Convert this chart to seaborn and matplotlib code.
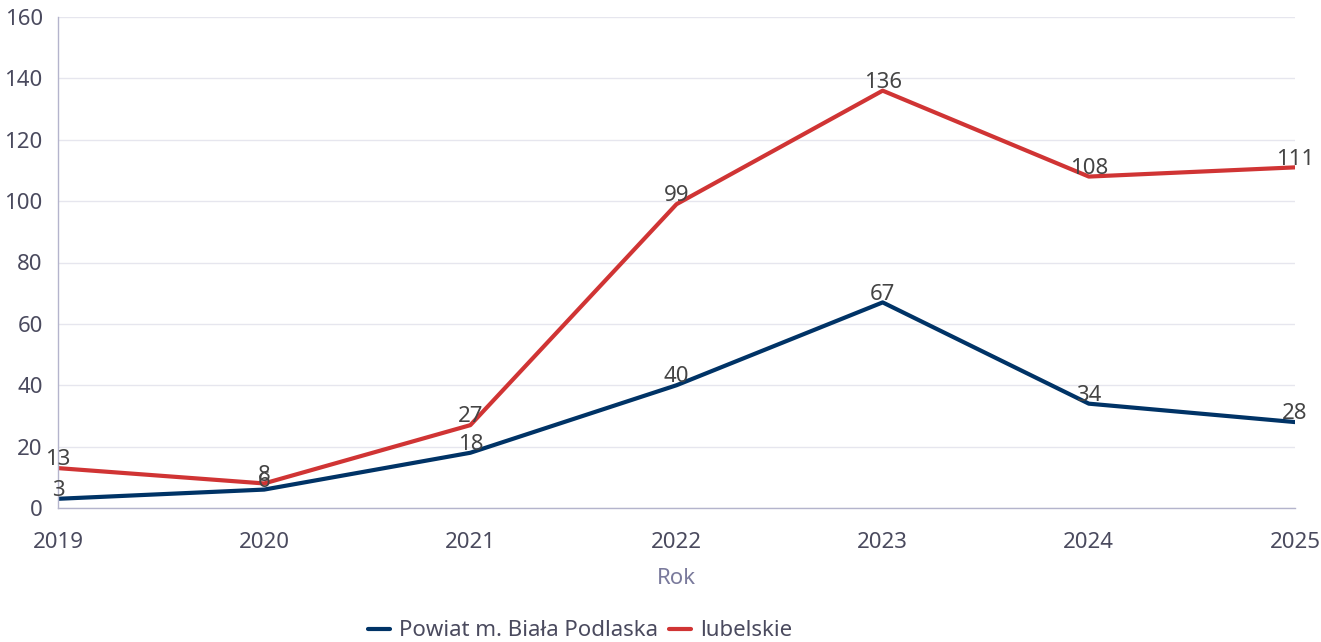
import numpy as np
import pandas as pd
import seaborn as sns
import matplotlib.pyplot as plt

years = [2019, 2020, 2021, 2022, 2023, 2024, 2025]
powiat = [3, 6, 18, 40, 67, 34, 28]
lubelskie = [13, 8, 27, 99, 136, 108, 111]
series_names = ['Powiat m. Biała Podlaska', 'lubelskie']
colors = ['#003366', '#d03434']

df = pd.DataFrame({
    'Rok': years * 2,
    'value': powiat + lubelskie,
    'series': [series_names[0]] * len(years) + [series_names[1]] * len(years),
})

sns.set_style('white')
plt.rcParams['font.family'] = ['Noto Sans', 'DejaVu Sans']

fig = plt.figure(figsize=(13.21, 6.42), dpi=100)
ax = fig.add_axes([58 / 1321, 1 - 508 / 642, (1295 - 58) / 1321, (508 - 17) / 642])

sns.lineplot(data=df, x='Rok', y='value', hue='series', palette=colors,
             linewidth=3, ax=ax, legend=True)

for name, vals in zip(series_names, [powiat, lubelskie]):
    for x, y in zip(years, vals):
        ax.annotate(str(y), (x, y), xytext=(0, 6), textcoords='offset points',
                    ha='center', va='center', fontsize=16, color='#444444')

ax.set_xlim(2019, 2025)
ax.set_ylim(0, 160)
ax.set_yticks(range(0, 161, 20))
ax.set_xticks(years)
ax.grid(axis='y', color='#e6e6ee', linewidth=1)
ax.set_axisbelow(True)
for s in ['top', 'right']:
    ax.spines[s].set_visible(False)
for s in ['left', 'bottom']:
    ax.spines[s].set_color('#b4b4cc')
    ax.spines[s].set_linewidth(1)
ax.tick_params(axis='both', length=0, labelsize=16, labelcolor='#4a4a5e')
ax.tick_params(axis='x', pad=17)
ax.tick_params(axis='y', pad=11)
ax.set_ylabel('')
ax.set_xlabel('Rok', fontsize=16, color='#7a7a9c', labelpad=11)

handles, labels = ax.get_legend_handles_labels()
ax.legend_.remove()
fig.legend(handles, labels, loc='center', bbox_to_anchor=(580 / 1321, 1 - 631 / 642),
           ncol=2, frameon=False, fontsize=16, labelcolor='#4a4a5e',
           handlelength=1.0, handletextpad=0.4, columnspacing=0.5)

fig.savefig('out.png', dpi=100)
